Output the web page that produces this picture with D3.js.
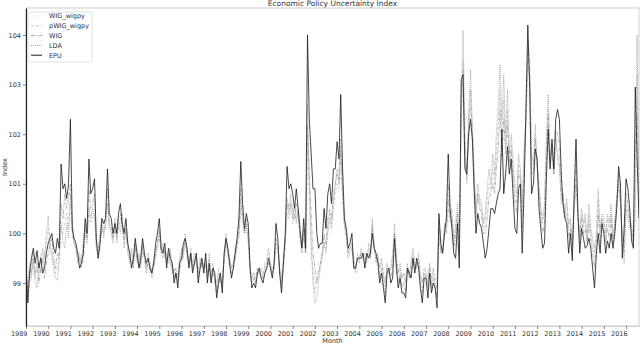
<!DOCTYPE html>
<html>
<head>
<meta charset="utf-8">
<script src="https://cdn.jsdelivr.net/npm/d3@7"></script>
<style>
  body { margin: 0; background: #fff; }
  text { font-family: "DejaVu Sans", sans-serif; fill: #333; }
</style>
</head>
<body>
<div id="chart"></div>
<script>
// monthly values, one row per year, Jan 1989 - Aug 2016
var epu = [].concat(
  [99.3, 98.6, 99.2, 99.5, 99.7, 99.4, 99.65, 99.3, 99.5, 99.2, 99.3, 99.6],
  [99.8, 99.9, 100.0, 99.7, 99.6, 99.9, 99.7, 101.4, 100.9, 101.0, 100.7, 101.0],
  [102.3, 100.1, 99.9, 99.8, 99.6, 99.3, 99.4, 99.6, 100.3, 100.0, 101.5, 100.8],
  [100.9, 101.1, 99.9, 99.5, 99.8, 100.3, 100.2, 100.3, 101.3, 100.4, 100.3, 100.0],
  [100.2, 100.0, 100.4, 100.6, 100.2, 100.0, 100.3, 99.8, 99.6, 99.3, 99.5, 99.9],
  [99.6, 99.3, 99.5, 99.9, 99.6, 99.4, 99.5, 99.3, 99.2, 99.4, 99.8, 100.0],
  [100.3, 99.7, 99.6, 99.8, 99.3, 99.7, 99.5, 99.4, 99.0, 99.2, 98.9, 99.4],
  [99.5, 99.8, 99.9, 99.7, 99.3, 99.6, 99.2, 99.4, 99.6, 99.0, 99.3, 99.5],
  [99.2, 99.6, 99.0, 99.4, 99.0, 99.3, 99.2, 98.7, 99.0, 99.2, 98.8, 99.6],
  [99.9, 99.7, 99.4, 99.1, 99.3, 99.6, 99.9, 100.3, 101.45, 100.6, 100.1, 100.4],
  [100.2, 99.3, 98.9, 99.0, 98.9, 99.2, 99.3, 99.1, 99.0, 99.2, 99.3, 99.5],
  [99.3, 99.1, 99.4, 100.2, 99.9, 99.2, 98.8, 99.4, 100.0, 101.35, 100.9, 101.0],
  [100.8, 100.5, 100.9, 100.5, 100.1, 99.7, 100.3, 99.7, 104.0, 102.3, 101.6, 100.9],
  [100.9, 100.0, 99.7, 99.8, 99.8, 100.5, 100.1, 100.8, 101.0, 100.6, 101.3, 101.3],
  [101.85, 101.5, 102.8, 101.3, 100.3, 100.1, 99.7, 99.8, 100.0, 99.3, 99.3, 99.5],
  [99.5, 99.5, 99.6, 99.3, 99.6, 99.5, 99.6, 100.0, 99.7, 99.6, 99.4, 99.0],
  [99.2, 98.9, 98.6, 99.2, 99.3, 99.0, 99.1, 99.9, 99.3, 98.9, 99.1, 98.8],
  [98.8, 98.7, 99.3, 99.2, 99.1, 99.5, 99.2, 99.5, 99.3, 98.9, 98.6, 99.1],
  [99.1, 98.7, 99.2, 98.8, 99.0, 98.9, 98.5, 100.4, 99.8, 99.6, 100.0, 100.3],
  [101.6, 100.5, 100.1, 99.6, 99.5, 100.2, 99.3, 103.1, 103.2, 101.3, 101.2, 102.0],
  [102.3, 101.9, 100.9, 100.0, 100.4, 100.2, 100.1, 99.8, 99.5, 99.7, 100.1, 100.5],
  [100.5, 100.4, 100.6, 100.8, 100.9, 102.1, 100.8, 101.2, 101.75, 101.2, 101.5, 100.8],
  [100.1, 100.0, 100.9, 101.0, 99.6, 100.9, 102.5, 104.2, 102.9, 100.8, 101.0, 101.7],
  [101.5, 100.5, 100.1, 99.7, 99.8, 101.1, 102.1, 101.3, 101.9, 101.3, 102.3, 102.5],
  [102.3, 101.2, 100.6, 100.3, 100.2, 99.6, 100.0, 99.45, 100.8, 101.9, 100.4, 99.6],
  [100.1, 99.9, 99.7, 99.75, 99.9, 99.7, 99.3, 98.9, 99.6, 100.0, 99.6, 100.2],
  [100.0, 99.6, 99.85, 99.7, 100.0, 99.7, 100.0, 100.5, 101.35, 101.0, 99.5, 100.1],
  [101.1, 100.9, 100.5, 99.85, 99.7, 102.95, 101.5, 100.3]
);

var lda = [].concat(
  [99.0, 98.9, 99.3, 99.1, 99.5, 99.0, 98.9, 99.4, 99.2, 99.7, 99.5, 100.0],
  [100.35, 99.8, 99.6, 99.3, 99.1, 99.05, 99.4, 100.2, 99.8, 99.7, 100.2, 99.9],
  [100.8, 100.2, 99.8, 99.7, 99.5, 99.6, 99.4, 99.9, 100.2, 99.8, 100.5, 100.3],
  [100.5, 100.3, 99.7, 99.6, 100.0, 100.3, 99.9, 100.4, 100.6, 100.1, 100.0, 99.8],
  [100.3, 99.8, 100.2, 100.0, 100.4, 99.7, 100.1, 99.6, 99.4, 99.7, 99.3, 99.8],
  [99.4, 99.6, 99.3, 99.7, 99.5, 99.2, 99.6, 99.4, 99.1, 99.5, 99.6, 99.8],
  [100.0, 99.6, 99.8, 99.5, 99.6, 99.4, 99.7, 99.2, 99.3, 99.1, 99.2, 99.5],
  [99.7, 99.5, 100.0, 99.5, 99.4, 99.7, 99.3, 99.6, 99.4, 99.2, 99.5, 99.3],
  [99.4, 99.3, 99.2, 99.6, 99.1, 99.4, 99.0, 98.9, 99.3, 99.0, 99.1, 99.5],
  [100.0, 99.6, 99.5, 99.3, 99.4, 99.7, 99.8, 100.0, 100.7, 100.3, 100.0, 100.2],
  [99.8, 99.2, 99.1, 99.2, 99.0, 99.3, 99.2, 99.3, 99.1, 99.4, 99.5, 99.7],
  [99.4, 99.2, 99.3, 99.8, 99.7, 99.3, 99.1, 99.5, 99.9, 100.6, 100.4, 100.8],
  [100.3, 100.6, 100.2, 100.5, 99.9, 99.8, 100.0, 99.6, 102.6, 101.0, 99.8, 99.0],
  [98.6, 98.7, 99.0, 99.3, 99.5, 99.8, 99.6, 100.0, 100.3, 100.1, 100.6, 101.0],
  [101.2, 101.0, 101.7, 100.8, 100.2, 100.0, 99.5, 99.6, 99.7, 99.4, 99.2, 99.6],
  [99.4, 99.7, 99.5, 99.6, 99.4, 99.8, 99.5, 100.3, 99.8, 99.4, 99.6, 99.3],
  [99.5, 99.1, 99.0, 99.4, 99.2, 99.3, 99.6, 100.2, 99.6, 99.2, 99.4, 99.1],
  [99.2, 99.0, 99.4, 99.1, 99.5, 99.7, 99.4, 99.3, 99.6, 99.2, 99.0, 99.3],
  [99.2, 99.0, 99.4, 99.1, 99.3, 99.0, 98.9, 100.1, 99.6, 99.7, 100.2, 100.0],
  [100.7, 100.3, 100.5, 99.8, 100.2, 100.6, 99.9, 102.5, 104.1, 102.0, 101.2, 102.4],
  [103.3, 102.2, 101.3, 100.5, 101.0, 100.7, 100.6, 100.2, 100.4, 100.9, 101.3, 101.0],
  [101.6, 101.2, 102.0, 102.6, 103.4, 102.3, 103.2, 102.0, 102.9, 101.6, 102.0, 101.5],
  [101.0, 100.8, 101.6, 101.3, 100.6, 101.8, 102.3, 103.9, 103.5, 101.6, 101.4, 102.2],
  [101.4, 101.0, 100.5, 100.3, 100.6, 102.0, 102.8, 101.6, 101.7, 101.2, 102.0, 101.5],
  [101.3, 100.6, 100.8, 100.4, 100.7, 100.2, 100.3, 99.8, 100.5, 101.0, 100.4, 100.0],
  [100.5, 100.2, 100.4, 99.9, 100.6, 100.1, 99.9, 99.7, 100.0, 100.9, 100.1, 100.4],
  [100.3, 100.0, 100.4, 100.2, 100.6, 99.9, 100.3, 100.7, 101.0, 100.6, 100.0, 99.4],
  [100.5, 100.3, 100.1, 100.2, 99.8, 100.3, 104.0, 100.4]
);

var wig = [].concat(
  [99.2, 98.8, 99.0, 99.3, 99.6, 99.2, 99.4, 99.0, 99.3, 99.5, 99.1, 99.4],
  [99.6, 99.8, 99.9, 99.5, 99.3, 99.6, 99.5, 100.6, 100.3, 100.8, 100.5, 100.7],
  [101.0, 100.0, 99.8, 99.7, 99.4, 99.5, 99.3, 99.5, 100.0, 99.9, 100.9, 100.5],
  [100.6, 100.8, 99.8, 99.5, 99.7, 100.1, 100.0, 100.1, 100.9, 100.2, 100.1, 99.9],
  [100.1, 99.9, 100.3, 100.4, 100.1, 99.9, 100.1, 99.7, 99.5, 99.4, 99.4, 99.7],
  [99.5, 99.3, 99.4, 99.8, 99.5, 99.3, 99.4, 99.2, 99.3, 99.3, 99.6, 99.8],
  [100.1, 99.6, 99.5, 99.7, 99.4, 99.6, 99.4, 99.3, 99.1, 99.3, 99.0, 99.3],
  [99.4, 99.7, 99.8, 99.6, 99.4, 99.5, 99.3, 99.4, 99.5, 99.1, 99.3, 99.4],
  [99.3, 99.5, 99.1, 99.3, 99.1, 99.2, 99.1, 98.8, 99.1, 99.1, 98.9, 99.5],
  [99.8, 99.6, 99.3, 99.2, 99.3, 99.5, 99.8, 100.1, 100.9, 100.4, 100.0, 100.3],
  [100.0, 99.3, 99.0, 99.1, 99.0, 99.2, 99.2, 99.1, 99.1, 99.2, 99.3, 99.4],
  [99.3, 99.2, 99.3, 99.9, 99.8, 99.2, 98.9, 99.3, 99.8, 100.7, 100.5, 100.6],
  [100.5, 100.3, 100.6, 100.3, 100.0, 99.6, 100.1, 99.6, 102.2, 101.2, 100.4, 99.6],
  [99.3, 99.0, 99.2, 99.4, 99.6, 100.0, 99.8, 100.3, 100.5, 100.3, 100.8, 101.0],
  [101.3, 101.1, 101.9, 100.9, 100.2, 100.0, 99.6, 99.7, 99.8, 99.3, 99.3, 99.5],
  [99.5, 99.6, 99.5, 99.4, 99.5, 99.6, 99.5, 100.1, 99.7, 99.5, 99.5, 99.1],
  [99.3, 99.0, 98.8, 99.3, 99.2, 99.1, 99.3, 100.0, 99.4, 99.0, 99.2, 98.9],
  [99.0, 98.8, 99.3, 99.1, 99.2, 99.5, 99.3, 99.4, 99.4, 99.0, 98.8, 99.2],
  [99.1, 98.9, 99.3, 98.9, 99.1, 98.9, 98.7, 100.3, 99.7, 99.6, 100.1, 100.2],
  [101.0, 100.4, 100.3, 99.7, 99.9, 100.4, 99.6, 102.8, 103.3, 101.6, 101.1, 102.2],
  [102.9, 102.0, 101.2, 100.3, 100.8, 100.5, 100.4, 100.0, 100.0, 100.3, 100.7, 100.8],
  [101.0, 100.8, 101.3, 101.7, 102.5, 101.5, 102.3, 101.6, 102.2, 101.4, 101.7, 101.1],
  [100.6, 100.4, 101.2, 101.1, 100.1, 101.4, 102.4, 103.7, 103.2, 101.2, 101.2, 101.9],
  [101.4, 100.8, 100.3, 100.0, 100.2, 101.5, 102.4, 101.4, 101.8, 101.2, 102.1, 102.0],
  [101.8, 100.9, 100.7, 100.3, 100.4, 99.9, 100.1, 99.6, 100.6, 101.4, 100.4, 99.8],
  [100.3, 100.0, 100.1, 99.8, 100.2, 99.9, 99.6, 99.3, 99.8, 100.4, 99.8, 100.3],
  [100.1, 99.8, 100.1, 99.9, 100.3, 99.8, 100.1, 100.6, 101.2, 100.8, 99.7, 99.8],
  [100.8, 100.6, 100.3, 100.0, 99.8, 101.8, 102.4, 100.4]
);

var pwigWigpy = [].concat(
  [99.1, 99.0, 99.4, 99.2, 99.4, 99.1, 99.3, 99.2, 99.6, 99.4, 99.6, 99.8],
  [100.1, 99.7, 99.5, 99.4, 99.2, 99.3, 99.6, 100.1, 100.0, 100.2, 100.4, 100.1],
  [100.6, 100.1, 99.9, 99.8, 99.6, 99.5, 99.5, 99.7, 100.1, 99.9, 100.4, 100.2],
  [100.3, 100.4, 99.9, 99.7, 99.9, 100.2, 100.1, 100.3, 100.5, 100.2, 100.1, 99.9],
  [100.2, 100.0, 100.1, 100.3, 100.2, 99.8, 100.0, 99.8, 99.6, 99.6, 99.4, 99.8],
  [99.5, 99.5, 99.4, 99.6, 99.6, 99.3, 99.5, 99.3, 99.2, 99.4, 99.5, 99.7],
  [99.9, 99.7, 99.7, 99.6, 99.5, 99.5, 99.6, 99.3, 99.2, 99.2, 99.1, 99.4],
  [99.6, 99.6, 99.9, 99.6, 99.5, 99.6, 99.4, 99.5, 99.5, 99.3, 99.4, 99.4],
  [99.3, 99.4, 99.2, 99.5, 99.2, 99.3, 99.1, 99.0, 99.2, 99.1, 99.0, 99.4],
  [99.9, 99.7, 99.5, 99.3, 99.4, 99.6, 99.7, 99.9, 100.5, 100.2, 100.0, 100.1],
  [99.9, 99.3, 99.1, 99.2, 99.1, 99.3, 99.3, 99.2, 99.2, 99.3, 99.4, 99.6],
  [99.4, 99.3, 99.4, 99.7, 99.6, 99.3, 99.0, 99.4, 99.8, 100.4, 100.3, 100.6],
  [100.2, 100.4, 100.3, 100.4, 99.9, 99.7, 99.9, 99.6, 102.0, 100.7, 99.6, 99.2],
  [98.8, 99.0, 99.2, 99.4, 99.6, 99.9, 99.7, 100.1, 100.4, 100.2, 100.5, 100.8],
  [101.0, 100.9, 101.5, 100.7, 100.1, 99.9, 99.6, 99.7, 99.8, 99.5, 99.3, 99.5],
  [99.5, 99.6, 99.6, 99.5, 99.5, 99.7, 99.6, 100.2, 99.8, 99.5, 99.5, 99.3],
  [99.4, 99.2, 99.0, 99.3, 99.3, 99.3, 99.5, 100.0, 99.5, 99.2, 99.3, 99.1],
  [99.2, 99.0, 99.3, 99.2, 99.4, 99.6, 99.3, 99.3, 99.5, 99.1, 99.0, 99.2],
  [99.2, 99.1, 99.3, 99.0, 99.2, 99.1, 99.0, 99.9, 99.6, 99.6, 100.0, 100.0],
  [100.5, 100.2, 100.3, 99.9, 100.1, 100.4, 99.9, 102.0, 103.5, 101.7, 101.0, 101.9],
  [102.6, 101.8, 101.0, 100.4, 100.8, 100.6, 100.5, 100.2, 100.3, 100.7, 101.0, 100.9],
  [101.3, 101.0, 101.6, 102.2, 102.9, 102.0, 102.7, 101.8, 102.5, 101.5, 101.8, 101.3],
  [100.8, 100.6, 101.4, 101.2, 100.4, 101.5, 102.1, 103.4, 103.1, 101.4, 101.3, 102.0],
  [101.3, 100.9, 100.5, 100.2, 100.5, 101.7, 102.5, 101.5, 101.6, 101.2, 101.9, 101.6],
  [101.4, 100.7, 100.8, 100.4, 100.6, 100.1, 100.3, 99.8, 100.5, 101.0, 100.4, 100.0],
  [100.4, 100.1, 100.3, 99.9, 100.4, 100.0, 99.8, 99.6, 99.9, 100.7, 100.0, 100.3],
  [100.2, 99.9, 100.3, 100.1, 100.4, 99.9, 100.2, 100.6, 100.9, 100.6, 99.9, 99.6],
  [100.6, 100.4, 100.2, 100.1, 99.8, 100.9, 103.2, 100.4]
);

var wigWigpy = [].concat(
  [99.2, 98.9, 99.3, 99.2, 99.5, 99.1, 99.4, 99.1, 99.5, 99.4, 99.4, 99.7],
  [99.9, 99.7, 99.6, 99.4, 99.2, 99.4, 99.5, 100.3, 100.1, 100.4, 100.4, 100.3],
  [100.8, 100.0, 99.8, 99.7, 99.5, 99.5, 99.4, 99.6, 100.1, 99.9, 100.6, 100.3],
  [100.4, 100.6, 99.8, 99.6, 99.8, 100.2, 100.0, 100.2, 100.7, 100.2, 100.1, 99.9],
  [100.1, 99.9, 100.2, 100.3, 100.1, 99.9, 100.0, 99.7, 99.5, 99.5, 99.4, 99.7],
  [99.5, 99.4, 99.4, 99.7, 99.5, 99.3, 99.5, 99.3, 99.2, 99.4, 99.5, 99.7],
  [100.0, 99.6, 99.6, 99.6, 99.4, 99.5, 99.5, 99.3, 99.1, 99.2, 99.1, 99.4],
  [99.5, 99.6, 99.8, 99.6, 99.4, 99.6, 99.3, 99.4, 99.5, 99.2, 99.4, 99.4],
  [99.3, 99.4, 99.1, 99.4, 99.1, 99.3, 99.1, 98.9, 99.1, 99.1, 99.0, 99.4],
  [99.8, 99.6, 99.4, 99.2, 99.3, 99.5, 99.7, 100.0, 100.7, 100.3, 100.0, 100.2],
  [99.9, 99.3, 99.0, 99.1, 99.0, 99.2, 99.2, 99.1, 99.1, 99.2, 99.3, 99.5],
  [99.3, 99.2, 99.3, 99.8, 99.7, 99.2, 98.9, 99.3, 99.8, 100.5, 100.4, 100.6],
  [100.4, 100.3, 100.4, 100.3, 99.9, 99.6, 100.0, 99.6, 102.1, 100.9, 100.0, 99.4],
  [99.0, 99.0, 99.2, 99.4, 99.6, 99.9, 99.7, 100.2, 100.4, 100.2, 100.6, 100.9],
  [101.1, 101.0, 101.7, 100.8, 100.1, 99.9, 99.6, 99.7, 99.8, 99.4, 99.3, 99.5],
  [99.5, 99.6, 99.5, 99.4, 99.5, 99.6, 99.5, 100.1, 99.7, 99.5, 99.5, 99.2],
  [99.3, 99.1, 98.9, 99.3, 99.2, 99.2, 99.4, 100.0, 99.4, 99.1, 99.2, 99.0],
  [99.1, 98.9, 99.3, 99.1, 99.3, 99.5, 99.3, 99.3, 99.4, 99.0, 98.9, 99.2],
  [99.1, 99.0, 99.3, 98.9, 99.1, 99.0, 98.8, 100.1, 99.6, 99.6, 100.0, 100.1],
  [100.7, 100.3, 100.3, 99.8, 100.0, 100.4, 99.7, 102.4, 103.4, 101.6, 101.0, 102.0],
  [102.7, 101.9, 101.1, 100.3, 100.8, 100.5, 100.4, 100.1, 100.1, 100.5, 100.8, 100.8],
  [101.1, 100.9, 101.4, 101.9, 102.7, 101.7, 102.5, 101.7, 102.3, 101.4, 101.7, 101.2],
  [100.7, 100.5, 101.3, 101.1, 100.2, 101.4, 102.2, 103.5, 103.1, 101.3, 101.2, 101.9],
  [101.3, 100.8, 100.4, 100.1, 100.3, 101.6, 102.4, 101.4, 101.7, 101.2, 102.0, 101.8],
  [101.6, 100.8, 100.7, 100.3, 100.5, 100.0, 100.2, 99.7, 100.5, 101.2, 100.4, 99.9],
  [100.3, 100.0, 100.2, 99.8, 100.3, 99.9, 99.7, 99.4, 99.8, 100.5, 99.9, 100.3],
  [100.1, 99.8, 100.2, 100.0, 100.3, 99.8, 100.1, 100.6, 101.0, 100.7, 99.8, 99.7],
  [100.7, 100.5, 100.2, 100.0, 99.8, 101.3, 102.8, 100.4]
);

var tickYears = d3.range(1989, 2017);
var yTicks = [99, 100, 101, 102, 103, 104];

// months from Jan 1989 onward
var months = epu.map(function (d, i) { return new Date(1989, i, 1); });

var series = [
  { name: "WIG_wigpy", values: wigWigpy, color: "#f2f2f2", dash: null, width: 0.8 },
  { name: "pWIG_wigpy", values: pwigWigpy, color: "#c2c2c2", dash: "3,2", width: 0.75 },
  { name: "WIG", values: wig, color: "#a0a0a0", dash: "4,1.5,1,1.5", width: 0.75 },
  { name: "LDA", values: lda, color: "#949494", dash: "1,1", width: 0.75 },
  { name: "EPU", values: epu, color: "#1a1a1a", dash: null, width: 0.8 }
];

var W = 640, H = 344;
var margin = { top: 8, right: 1, bottom: 18, left: 26 };

var svg = d3.select("#chart")
  .append("svg")
  .attr("width", W)
  .attr("height", H);

var x = d3.scaleTime()
  .domain([new Date(1989, 0, 1), new Date(2016, 7, 1)])
  .range([margin.left, W - margin.right]);

var y = d3.scaleLinear()
  .domain([98.133, 104.544])
  .range([H - margin.bottom, margin.top]);

// frame
svg.append("rect")
  .attr("x", margin.left)
  .attr("y", margin.top)
  .attr("width", W - margin.right - margin.left)
  .attr("height", H - margin.bottom - margin.top)
  .attr("fill", "none")
  .attr("stroke", "#cfcfcf")
  .attr("stroke-width", 1);

// lines
var line = d3.line()
  .x(function (d, i) { return x(months[i]); })
  .y(function (d) { return y(d); });

var plot = svg.append("g");
plot.append("clipPath").attr("id", "clip")
  .append("rect")
  .attr("x", margin.left).attr("y", margin.top)
  .attr("width", W - margin.right - margin.left)
  .attr("height", H - margin.bottom - margin.top);

plot.attr("clip-path", "url(#clip)")
  .selectAll("path")
  .data(series)
  .enter()
  .append("path")
  .attr("d", function (s) { return line(s.values); })
  .attr("fill", "none")
  .attr("stroke", function (s) { return s.color; })
  .attr("stroke-width", function (s) { return s.width; })
  .attr("stroke-dasharray", function (s) { return s.dash; });

// x axis
var xAxis = svg.append("g")
  .attr("transform", "translate(0," + (H - margin.bottom) + ")")
  .call(d3.axisBottom(x)
    .tickValues(tickYears.map(function (yr) { return new Date(yr, 0, 1); }))
    .tickFormat(d3.timeFormat("%Y"))
    .tickSize(3)
    .tickSizeOuter(0));
xAxis.select(".domain").attr("stroke", "#cfcfcf");
xAxis.selectAll(".tick line").attr("stroke", "#555").attr("stroke-width", 0.7);
xAxis.selectAll(".tick text")
  .attr("text-anchor", "end")
  .attr("x", 1)
  .attr("y", 5)
  .style("font-size", "6.5px")
  .style("font-family", "DejaVu Sans")
  .style("fill", "#333");

// y axis
var yAxis = svg.append("g")
  .attr("transform", "translate(" + margin.left + ",0)")
  .call(d3.axisLeft(y).tickValues(yTicks).tickFormat(d3.format("d")).tickSize(3).tickSizeOuter(0));
yAxis.select(".domain").attr("stroke", "#222").attr("stroke-width", 1.2);
yAxis.selectAll(".tick line").attr("stroke", "#555").attr("stroke-width", 0.7);
yAxis.selectAll(".tick text")
  .attr("x", -5)
  .style("font-size", "6.5px")
  .style("font-family", "DejaVu Sans")
  .style("fill", "#333");

// title and axis labels
svg.append("text")
  .attr("x", (margin.left + W - margin.right) / 2)
  .attr("y", 6)
  .attr("text-anchor", "middle")
  .style("font-size", "7.5px")
  .text("Economic Policy Uncertainty Index");

svg.append("text")
  .attr("x", (margin.left + W - margin.right) / 2)
  .attr("y", 343)
  .attr("text-anchor", "middle")
  .style("font-size", "6.5px")
  .text("Month");

svg.append("text")
  .attr("transform", "translate(7," + ((margin.top + H - margin.bottom) / 2) + ") rotate(-90)")
  .attr("text-anchor", "middle")
  .style("font-size", "6.5px")
  .text("Index");

// legend
var legend = svg.append("g").attr("transform", "translate(28,12)");
legend.append("rect")
  .attr("width", 64)
  .attr("height", 50)
  .attr("rx", 2)
  .attr("fill", "#fff")
  .attr("fill-opacity", 0.85)
  .attr("stroke", "#d8d8d8")
  .attr("stroke-width", 0.8);

var item = legend.selectAll(".item")
  .data(series)
  .enter()
  .append("g")
  .attr("class", "item")
  .attr("transform", function (s, i) { return "translate(0," + (4 + i * 9.8) + ")"; });

item.append("line")
  .attr("x1", 3).attr("x2", 14)
  .attr("y1", 0).attr("y2", 0)
  .attr("stroke", function (s) { return s.color; })
  .attr("stroke-width", function (s) { return s.width + 0.2; })
  .attr("stroke-dasharray", function (s) { return s.dash; });

item.append("text")
  .attr("x", 21)
  .attr("y", 2.3)
  .style("font-size", "6.5px")
  .text(function (s) { return s.name; });
</script>
</body>
</html>
